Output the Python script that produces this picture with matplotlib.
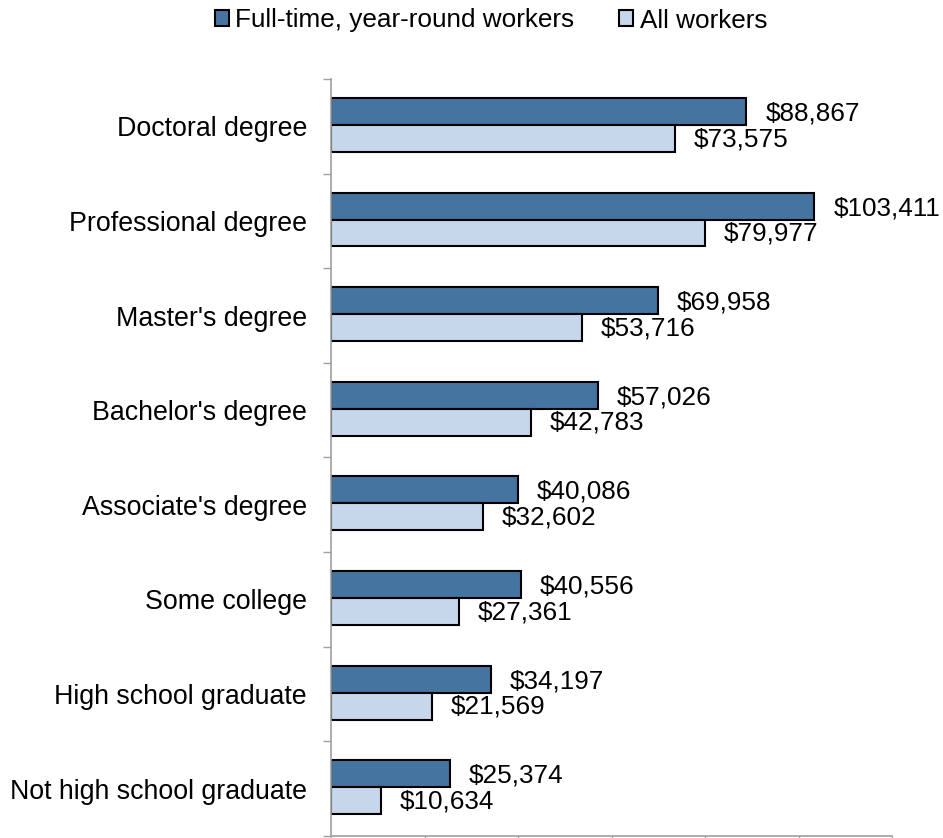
import matplotlib
matplotlib.use("Agg")
import matplotlib.pyplot as plt
from matplotlib.patches import Patch
import numpy as np

categories = ["Doctoral degree", "Professional degree", "Master's degree",
              "Bachelor's degree", "Associate's degree", "Some college",
              "High school graduate", "Not high school graduate"]
full_time = [88867, 103411, 69958, 57026, 40086, 40556, 34197, 25374]
all_workers = [73575, 79977, 53716, 42783, 32602, 27361, 21569, 10634]
series_names = ["Full-time, year-round workers", "All workers"]

dark = "#4674A1"
light = "#C6D7EB"
spine_c = "#A0A0A0"

plt.rcParams['font.family'] = ['Liberation Sans', 'DejaVu Sans']
FS = 18.8
FS_CAT = 19.3

W, H = 943, 838
fig = plt.figure(figsize=(W / 100, H / 100), dpi=100)
ax = fig.add_axes([331 / W, 2 / H, (892 - 331) / W, (836 - 79) / H])

n = len(categories)
pos = np.arange(n)
h = 0.285
pair_c = 0.485
y_dark = pos + pair_c - h / 2
y_light = pos + pair_c + h / 2

ax.barh(y_dark, full_time, height=h, color=dark, edgecolor="black", linewidth=1.5)
ax.barh(y_light, all_workers, height=h, color=light, edgecolor="black", linewidth=1.5)

for y, v in zip(y_dark, full_time):
    ax.annotate(f"${v:,}", (v, y), xytext=(13.5, -1.5), textcoords="offset points",
                ha="left", va="center", fontsize=FS)
for y, v in zip(y_light, all_workers):
    ax.annotate(f"${v:,}", (v, y), xytext=(13.5, -0.5), textcoords="offset points",
                ha="left", va="center", fontsize=FS)

ax.set_xlim(0, 120000)
ax.set_ylim(n, 0)
ax.set_xticks(np.arange(0, 120001, 20000))
ax.set_xticklabels([])
ax.set_yticks(np.arange(0, n + 1))
ax.set_yticklabels([])
ax.set_yticks(pos + 0.5, minor=True)
ax.set_yticklabels(categories, minor=True, fontsize=FS_CAT)
ax.tick_params(axis="y", which="minor", length=0, pad=17.3)
ax.tick_params(axis="y", which="major", length=5.5, width=1, color=spine_c, direction="out")
ax.tick_params(axis="x", which="major", length=5.5, width=1, color=spine_c, direction="out")

for s in ["top", "right"]:
    ax.spines[s].set_visible(False)
for s in ["left", "bottom"]:
    ax.spines[s].set_color(spine_c)
    ax.spines[s].set_linewidth(1.2)

handles = [Patch(facecolor=dark, edgecolor="black", linewidth=1.5),
           Patch(facecolor=light, edgecolor="black", linewidth=1.5)]
fig.legend(handles, series_names, loc="center", bbox_to_anchor=(491 / W, 1 - 20.5 / H),
           ncol=2, frameon=False, fontsize=FS, handlelength=0.55, handleheight=0.55,
           handletextpad=0.25, columnspacing=1.7, borderaxespad=0, borderpad=0)

fig.savefig("out.png", dpi=100)
